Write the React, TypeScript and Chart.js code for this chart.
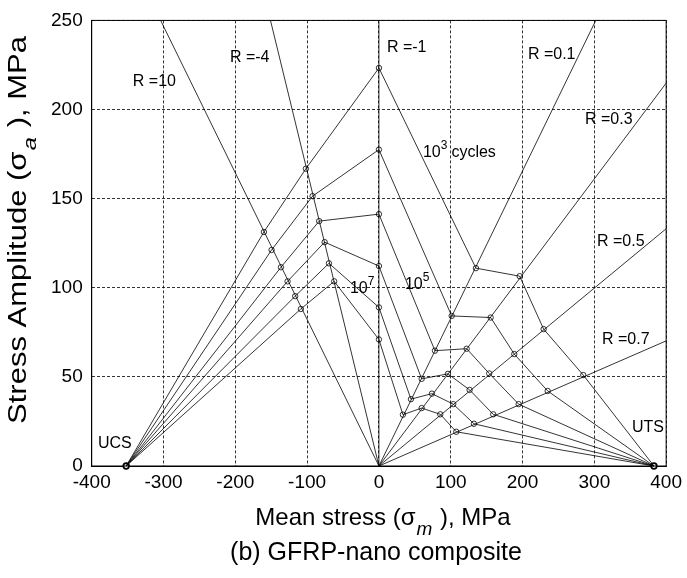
import React, { useEffect, useRef } from "react";
import { Chart, registerables } from "chart.js";
Chart.register(...registerables);

const FONT = '"Liberation Sans", Arial, Helvetica, sans-serif';

// Ultimate compressive / tensile strength (MPa) on the mean-stress axis
const UCS = -352;
const UTS = 383;

// Radial constant-R lines from the origin to the plot edge
const rLineNames = ["R =10", "R =-4", "R =-1", "R =0.1", "R =0.3", "R =0.5", "R =0.7"];
const rLineEndM = [-304, -151, 0, 302, 400, 400, 400];
const rLineEndA = [250, 250, 250, 250, 214.8, 133.1, 70.2];

// Constant-life curves: points UCS, R=10, R=-4, R=-1, R=0.1, R=0.3, R=0.5, R=0.7, UTS
const life1M = [UCS, -160.2, -101.7, 0, 135.1, 196.0, 229.4, 284.6, UTS];
const life1A = [0, 131.3, 166.8, 223.3, 111.0, 106.5, 76.8, 51.0, 0];
const life2M = [UCS, -149.5, -92.4, 0, 101.3, 155.6, 188.5, 235.0, UTS];
const life2A = [0, 121.2, 151.4, 177.5, 84.2, 83.3, 62.8, 42.1, 0];
const life3M = [UCS, -136.5, -83.2, 0, 78.0, 122.2, 153.6, 194.6, UTS];
const life3A = [0, 111.5, 137.4, 141.3, 64.7, 65.8, 51.9, 34.7, 0];
const life4M = [UCS, -127.2, -75.6, 0, 59.5, 96.1, 126.3, 159.2, UTS];
const life4A = [0, 103.6, 125.6, 112.2, 48.9, 51.7, 42.7, 29.0, 0];
const life5M = [UCS, -116.6, -69.6, 0, 44.6, 73.8, 103.5, 132.3, UTS];
const life5A = [0, 95.3, 113.7, 89.0, 37.5, 40.6, 34.7, 23.7, 0];
const life6M = [UCS, -108.7, -62.3, 0, 33.4, 59.5, 85.4, 107.7, UTS];
const life6A = [0, 88.1, 103.6, 71.0, 28.8, 32.5, 29.0, 19.2, 0];

// Text annotations (anchored in data coordinates, left edge / vertical middle)
const noteTexts = ["R =10", "R =-4", "R =-1", "R =0.1", "R =0.3", "R =0.5", "R =0.7", "UCS", "UTS"];
const noteM = [-342.7, -207.5, 11.1, 207.5, 287, 303.7, 310.6, -391.4, 352.4];
const noteA = [215.5, 229.4, 234.9, 231, 194.5, 125.8, 70.9, 12.7, 21.6];

// Fatigue-life labels (10^n)
const lifeBase = ["10", "10", "10"];
const lifeExp = ["3", "5", "7"];
const lifeTail = ["cycles", "", ""];
const lifeLabelM = [61.3, 36.2, -40.4];
const lifeLabelA = [175.6, 101.9, 99.7];

const xTitleParts = ["Mean stress (σ", "m", " ), MPa"];
const yTitleParts = ["Stress Amplitude (σ", "a", " ), MPa"];
const caption = "(b) GFRP-nano composite";

const textPlugin = {
  id: "texts",
  afterDraw(chart: any) {
    const { ctx, chartArea, scales } = chart;
    const xs = scales.x;
    const ys = scales.y;
    ctx.save();
    ctx.setLineDash([]);
    ctx.strokeStyle = "#000";
    ctx.lineWidth = 1;
    ctx.strokeRect(chartArea.left, chartArea.top, chartArea.right - chartArea.left, chartArea.bottom - chartArea.top);

    ctx.fillStyle = "#000";
    ctx.textBaseline = "middle";
    ctx.textAlign = "left";
    ctx.font = `16px ${FONT}`;
    noteTexts.forEach((t, i) => {
      ctx.fillText(t, xs.getPixelForValue(noteM[i]), ys.getPixelForValue(noteA[i]));
    });

    lifeBase.forEach((b, i) => {
      let px = xs.getPixelForValue(lifeLabelM[i]);
      const py = ys.getPixelForValue(lifeLabelA[i]);
      ctx.font = `16px ${FONT}`;
      ctx.fillText(b, px, py);
      px += ctx.measureText(b).width;
      ctx.font = `12px ${FONT}`;
      ctx.fillText(lifeExp[i], px, py - 7);
      px += ctx.measureText(lifeExp[i]).width + 4;
      if (lifeTail[i]) {
        ctx.font = `16px ${FONT}`;
        ctx.fillText(lifeTail[i], px, py);
      }
    });

    // axis titles with subscript
    const drawTitle = (parts: string[], size: number, subSize: number, subDy: number) => {
      ctx.font = `${size}px ${FONT}`;
      const w0 = ctx.measureText(parts[0]).width;
      const w2 = ctx.measureText(parts[2]).width;
      ctx.font = `italic ${subSize}px ${FONT}`;
      const w1 = ctx.measureText(parts[1]).width;
      const total = w0 + w1 + w2 + 2;
      let px = -total / 2;
      ctx.font = `${size}px ${FONT}`;
      ctx.fillText(parts[0], px, 0);
      px += w0 + 1;
      ctx.font = `italic ${subSize}px ${FONT}`;
      ctx.fillText(parts[1], px, subDy);
      px += w1 + 1;
      ctx.font = `${size}px ${FONT}`;
      ctx.fillText(parts[2], px, 0);
    };
    ctx.save();
    ctx.translate(383, 518);
    drawTitle(xTitleParts, 24, 19, 12);
    ctx.restore();

    ctx.save();
    ctx.translate(19, 230);
    ctx.rotate(-Math.PI / 2);
    ctx.scale(1.24, 1);
    drawTitle(yTitleParts, 25, 19, 12);
    ctx.restore();

    ctx.font = `25px ${FONT}`;
    ctx.textAlign = "center";
    ctx.fillText(caption, 376, 553);
    ctx.restore();
  },
};

export default function App() {
  const ref = useRef<HTMLCanvasElement>(null);
  useEffect(() => {
    if (!ref.current) return;
    const curves = [
      { m: life1M, a: life1A },
      { m: life2M, a: life2A },
      { m: life3M, a: life3A },
      { m: life4M, a: life4A },
      { m: life5M, a: life5A },
      { m: life6M, a: life6A },
    ];
    const datasets: any[] = [];
    curves.forEach((c, k) => {
      const last = c.m.length - 1;
      datasets.push({
        label: `life${k + 1}`,
        data: c.m.map((m, i) => ({ x: m, y: c.a[i] })),
        showLine: true,
        borderColor: "#000",
        borderWidth: 0.8,
        pointRadius: (ctx: any) => (ctx.dataIndex === 0 || ctx.dataIndex === last ? 0 : 2.7),
        pointBorderColor: "#000",
        pointBorderWidth: 0.8,
        pointBackgroundColor: "rgba(0,0,0,0)",
        clip: false,
      });
    });
    rLineNames.forEach((n, i) => {
      datasets.push({
        label: n,
        data: [
          { x: 0, y: 0 },
          { x: rLineEndM[i], y: rLineEndA[i] },
        ],
        showLine: true,
        borderColor: "#000",
        borderWidth: 0.8,
        pointRadius: 0,
        clip: false,
      });
    });
    datasets.push({
      label: "UCS/UTS",
      data: [
        { x: UCS, y: 0 },
        { x: UTS, y: 0 },
      ],
      showLine: false,
      pointRadius: 2.8,
      pointBorderWidth: 1.8,
      pointBorderColor: "#000",
      pointBackgroundColor: "#fff",
      clip: false,
    });

    const chart = new Chart(ref.current, {
      type: "scatter",
      data: { datasets },
      options: {
        animation: false,
        responsive: true,
        maintainAspectRatio: false,
        events: [],
        layout: { padding: { top: 14.7, right: 20, left: 0, bottom: 0 } },
        plugins: { legend: { display: false }, tooltip: { enabled: false } },
        scales: {
          x: {
            type: "linear",
            min: -400,
            max: 400,
            ticks: { stepSize: 100, color: "#000", font: { family: FONT, size: 19 }, padding: 5 },
            grid: { color: "#000", lineWidth: 0.8, drawTicks: false },
            border: { display: true, color: "#000", width: 1, dash: [3, 2] },
            afterFit: (s: any) => {
              s.height = 112;
            },
          },
          y: {
            type: "linear",
            min: 0,
            max: 250,
            ticks: { stepSize: 50, color: "#000", font: { family: FONT, size: 19 }, padding: 9 },
            grid: { color: "#000", lineWidth: 0.8, drawTicks: false },
            border: { display: true, color: "#000", width: 1, dash: [3, 2] },
            afterFit: (s: any) => {
              s.width = 91.7;
            },
          },
        },
      },
      plugins: [textPlugin],
    });
    return () => chart.destroy();
  }, []);
  return (
    <div style={{ position: "absolute", left: 0, top: 0, width: 687, height: 578, background: "#fff" }}>
      <canvas ref={ref} />
    </div>
  );
}
